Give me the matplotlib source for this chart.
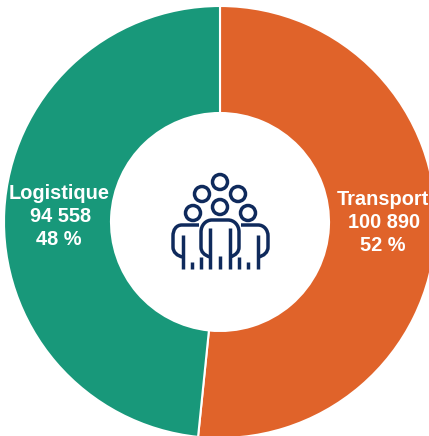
import matplotlib
matplotlib.use('Agg')
import matplotlib.pyplot as plt
from matplotlib.patches import Circle
from matplotlib.path import Path
from matplotlib.patches import PathPatch

categories = ['Transport', 'Logistique']
values = [100890, 94558]
value_labels = ['100 890', '94 558']
percent_labels = ['52 %', '48 %']
colors = ['#E0632A', '#18987A']

W, H = 429, 436
NAVY = '#0F2A5C'
LW = 2.5


def py(y):
    # picture rows run downwards
    return H - y


fig = plt.figure(figsize=(W / 100, H / 100), dpi=100)
ax = fig.add_axes([0, 0, 1, 1])
ax.pie(values, colors=colors, startangle=90, counterclock=False,
       center=(220, py(222)), radius=216,
       wedgeprops=dict(width=107, edgecolor='white', linewidth=1.5))
ax.set_xlim(0, W)
ax.set_ylim(0, H)
ax.set_aspect('equal')
ax.axis('off')

# labels, the middle row sits a little to the right in the reference
label_pos = [(383, [199, 222, 245]), (59, [193, 216, 239])]
for i, (x, ys) in enumerate(label_pos):
    lines = [categories[i], value_labels[i], percent_labels[i]]
    shifts = [0, 1.5, -0.5]
    for line, y, dx in zip(lines, ys, shifts):
        ax.text(x + dx, py(y), line, color='white', ha='center', va='center',
                fontsize=14.4, fontweight='bold', family='Liberation Sans', zorder=3)

# people icon in the hole
heads = [(220, 182), (202, 194), (238, 194), (193, 213), (220, 207), (248, 213)]
for x, y in heads:
    ax.add_patch(Circle((x, py(y)), 7.5, fill=False, edgecolor=NAVY, linewidth=LW, zorder=3))


def stroke(points):
    verts = [(x, py(y)) for x, y in points]
    codes = [Path.MOVETO] + [Path.LINETO] * (len(verts) - 1)
    ax.add_patch(PathPatch(Path(verts, codes), fill=False, edgecolor=NAVY,
                           linewidth=LW, capstyle='butt', joinstyle='round', zorder=3))


def curve(points):
    # points: start, then control/control/end triples
    verts = [(x, py(y)) for x, y in points]
    codes = [Path.MOVETO] + [Path.CURVE4] * (len(verts) - 1)
    ax.add_patch(PathPatch(Path(verts, codes), fill=False, edgecolor=NAVY,
                           linewidth=LW, capstyle='butt', zorder=3))


# centre body
curve([(210, 257), (204, 255), (201, 252), (201, 247),
       (201, 247), (201, 232), (201, 232),
       (201, 225), (206, 220), (212, 220),
       (212, 220), (228, 220), (228, 220),
       (234, 220), (239, 225), (239, 232),
       (239, 232), (239, 247), (239, 247),
       (239, 252), (236, 255), (230, 257)])
# side bodies
curve([(199, 225), (192, 225), (182, 225), (182, 225),
       (176, 225), (173, 230), (173, 236),
       (173, 236), (173, 247), (173, 247),
       (173, 252), (177, 256), (183, 257)])
curve([(241, 225), (248, 225), (258, 225), (258, 225),
       (264, 225), (268, 230), (268, 236),
       (268, 236), (268, 247), (268, 247),
       (268, 252), (264, 256), (258, 257)])
# arms and legs
for x, y0, y1 in [(183, 235, 269), (192, 262, 269), (201, 257, 269),
                  (210, 228, 269), (220, 256, 269), (230, 228, 269),
                  (239, 257, 269), (248, 262, 269), (258, 235, 269)]:
    stroke([(x, y0), (x, y1)])

fig.savefig('out.png', dpi=100, facecolor='white')
